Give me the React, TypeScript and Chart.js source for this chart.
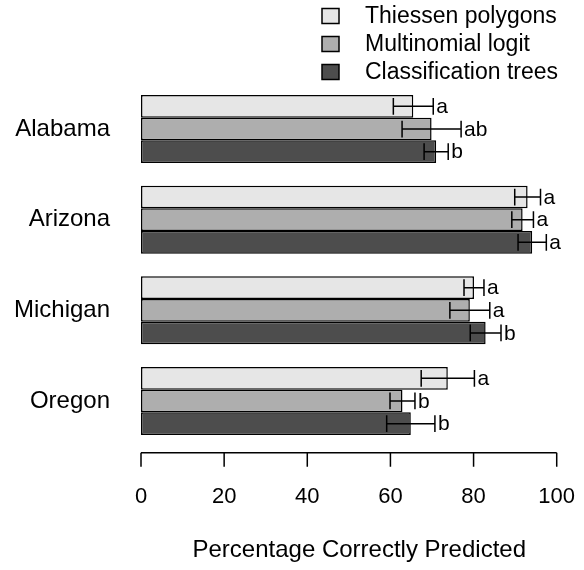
import React, { useEffect, useRef } from "react";
import { Chart, registerables } from "chart.js";

Chart.register(...registerables);

const states = ["Alabama", "Arizona", "Michigan", "Oregon"];
const seriesNames = ["Thiessen polygons", "Multinomial logit", "Classification trees"];
const seriesColors = ["#E6E6E6", "#AEAEAE", "#4D4D4D"];

const thiessen = [65.5, 93.0, 80.1, 73.8];
const thiessenErr = [4.8, 3.1, 2.4, 6.4];
const thiessenLetters = ["a", "a", "a", "a"];

const multinomial = [69.9, 91.8, 79.1, 62.9];
const multinomialErr = [7.1, 2.6, 4.8, 3.0];
const multinomialLetters = ["ab", "a", "a", "b"];

const classTrees = [71.0, 94.1, 82.9, 64.9];
const classTreesErr = [2.9, 3.4, 3.7, 5.8];
const classTreesLetters = ["b", "a", "b", "b"];

const xTicks = [0, 20, 40, 60, 80, 100];
const xRange = [0, 105];
const xTitle = "Percentage Correctly Predicted";

const FONT = "'Liberation Sans', Arial, Helvetica, sans-serif";

const errors = [thiessenErr, multinomialErr, classTreesErr];
const letters = [thiessenLetters, multinomialLetters, classTreesLetters];

const errorBarPlugin = {
  id: "errorBars",
  afterDatasetsDraw(chart: any) {
    const ctx = chart.ctx;
    const xs = chart.scales.x;
    ctx.save();
    ctx.strokeStyle = "#000";
    ctx.lineWidth = 1.5;
    ctx.fillStyle = "#000";
    ctx.font = `21px ${FONT}`;
    ctx.textBaseline = "middle";
    ctx.textAlign = "left";
    chart.data.datasets.forEach((ds: any, i: number) => {
      const meta = chart.getDatasetMeta(i);
      meta.data.forEach((el: any, j: number) => {
        const v = ds.data[j];
        const e = errors[i][j];
        const lo = xs.getPixelForValue(v - e);
        const hi = xs.getPixelForValue(v + e);
        const y = el.y;
        const cap = el.height * 0.37;
        ctx.beginPath();
        ctx.moveTo(lo, y);
        ctx.lineTo(hi, y);
        ctx.moveTo(lo, y - cap);
        ctx.lineTo(lo, y + cap);
        ctx.moveTo(hi, y - cap);
        ctx.lineTo(hi, y + cap);
        ctx.stroke();
        ctx.fillText(letters[i][j], hi + 3, y + 1);
      });
    });
    ctx.restore();
  },
};

const axisPlugin = {
  id: "offsetAxis",
  afterDraw(chart: any) {
    const ctx = chart.ctx;
    const xs = chart.scales.x;
    const y = chart.chartArea.bottom + 6.5;
    ctx.save();
    ctx.strokeStyle = "#000";
    ctx.lineWidth = 1.5;
    ctx.beginPath();
    ctx.moveTo(xs.getPixelForValue(xTicks[0]), y);
    ctx.lineTo(xs.getPixelForValue(xTicks[xTicks.length - 1]), y);
    xTicks.forEach((t) => {
      const px = xs.getPixelForValue(t);
      ctx.moveTo(px, y);
      ctx.lineTo(px, y + 14);
    });
    ctx.stroke();
    ctx.restore();
  },
};

const legendPlugin = {
  id: "stackLegend",
  afterDraw(chart: any) {
    const ctx = chart.ctx;
    ctx.save();
    ctx.font = `23px ${FONT}`;
    ctx.textBaseline = "middle";
    ctx.textAlign = "left";
    chart.data.datasets.forEach((ds: any, i: number) => {
      const cy = 16 + i * 28;
      const bx = 322;
      ctx.fillStyle = ds.backgroundColor;
      ctx.fillRect(bx, cy - 7.5, 17, 15);
      ctx.strokeStyle = "#000";
      ctx.lineWidth = 1.5;
      ctx.strokeRect(bx, cy - 7.5, 17, 15);
      ctx.fillStyle = "#000";
      ctx.fillText(ds.label, 365, cy + 1);
    });
    ctx.restore();
  },
};

export default function App() {
  const ref = useRef<HTMLCanvasElement>(null);
  useEffect(() => {
    if (!ref.current) return;
    const values = [thiessen, multinomial, classTrees];
    const chart = new Chart(ref.current, {
      type: "bar",
      data: {
        labels: states,
        datasets: seriesNames.map((name, i) => ({
          label: name,
          data: values[i],
          backgroundColor: seriesColors[i],
          borderColor: "#000",
          borderWidth: 1.5,
          borderSkipped: false,
          categoryPercentage: 0.75,
          barPercentage: 1,
        })),
      },
      options: {
        indexAxis: "y",
        responsive: false,
        animation: false,
        layout: { padding: { top: 83.7, right: 6.5, left: 0, bottom: 0 } },
        plugins: {
          legend: { display: false },
          tooltip: { enabled: false },
        },
        scales: {
          x: {
            min: xRange[0],
            max: xRange[1],
            grid: { display: false, drawTicks: false },
            border: { display: false },
            ticks: {
              color: "#000",
              font: { family: FONT, size: 22 },
              padding: 37,
            },
            afterBuildTicks(scale: any) {
              scale.ticks = xTicks.map((v) => ({ value: v }));
            },
            title: {
              display: true,
              text: xTitle,
              color: "#000",
              font: { family: FONT, size: 24, lineHeight: 1 },
              padding: { top: 0, bottom: 8 },
            },
            afterFit(scale: any) {
              scale.height = 123.7;
              scale.paddingLeft = 0;
              scale.paddingRight = 0;
            },
          },
          y: {
            grid: { display: false, drawTicks: false },
            border: { display: false },
            ticks: {
              color: "#000",
              font: { family: FONT, size: 24 },
              padding: 31,
            },
            afterFit(scale: any) {
              scale.width = 141;
            },
          },
        },
      },
      plugins: [errorBarPlugin, axisPlugin, legendPlugin],
    });
    return () => chart.destroy();
  }, []);
  return (
    <canvas
      ref={ref}
      width={584}
      height={570}
      style={{ display: "block", position: "absolute", left: 0, top: 0 }}
    />
  );
}
